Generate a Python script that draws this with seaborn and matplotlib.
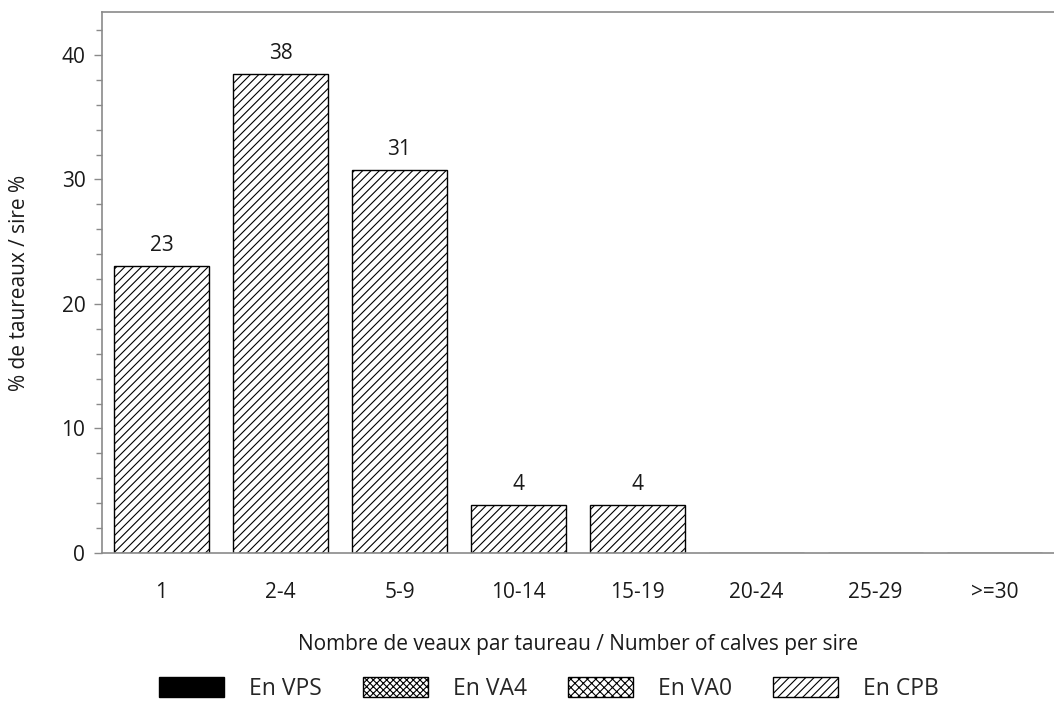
import matplotlib
matplotlib.use("Agg")
import matplotlib.pyplot as plt
import seaborn as sns
import pandas as pd
from matplotlib.patches import Patch
from matplotlib.ticker import MultipleLocator

categories = ["1", "2-4", "5-9", "10-14", "15-19", "20-24", "25-29", ">=30"]
cpb_values = [23.08, 38.46, 30.77, 3.85, 3.85, 0, 0, 0]
legend_labels = ["En VPS", "En VA4", "En VA0", "En CPB"]
y_label = "% de taureaux / sire %"
x_label = "Nombre de veaux par taureau / Number of calves per sire"

sns.set_style("white")
plt.rcParams['font.family'] = ['Open Sans', 'DejaVu Sans']
plt.rcParams['hatch.linewidth'] = 0.8

FS = 15
LFS = 16.5
TXT = "#1a1a1a"

df = pd.DataFrame({"cat": categories, "val": cpb_values})

fig = plt.figure(figsize=(10.54, 7.02), dpi=100)
ax = fig.add_axes([102/1054, 149/702, 952/1054, 541/702])

sns.barplot(data=df, x="cat", y="val", order=categories, color="white",
            edgecolor="black", linewidth=1.0, width=0.8, ax=ax, saturation=1)
for p in ax.patches:
    p.set_hatch("////")
    p.set_facecolor("white")
    p.set_edgecolor("black")

labels = [f"{v:.0f}" if v > 0 else "" for v in cpb_values]
ax.bar_label(ax.containers[0], labels=labels, padding=7, fontsize=FS, color=TXT)

ax.set_xlim(-0.5, 7.5)
ax.set_ylim(0, 43.45)
ax.yaxis.set_major_locator(MultipleLocator(10))
ax.yaxis.set_minor_locator(MultipleLocator(2))

gray = "#8a8a8a"
for side in ["left", "top", "bottom"]:
    ax.spines[side].set_color(gray)
    ax.spines[side].set_linewidth(1.2)
ax.spines["right"].set_visible(False)

ax.tick_params(axis="y", which="major", left=True, length=6, width=1, color=gray,
               pad=6, labelsize=FS, labelcolor=TXT)
ax.tick_params(axis="y", which="minor", left=True, length=4, width=1, color=gray)
ax.tick_params(axis="x", length=0, pad=21, labelsize=FS, labelcolor=TXT)

ax.set_xlabel(x_label, fontsize=FS, color=TXT, labelpad=22)
ax.set_ylabel(y_label, fontsize=FS, color=TXT)
ax.yaxis.set_label_coords(-0.0756, 0.5)

handles = [
    Patch(facecolor="black", edgecolor="black", label=legend_labels[0]),
    Patch(facecolor="white", edgecolor="black", hatch="xxxxx", label=legend_labels[1]),
    Patch(facecolor="white", edgecolor="black", hatch="xxxx", label=legend_labels[2]),
    Patch(facecolor="white", edgecolor="black", hatch="////", label=legend_labels[3]),
]
h = LFS * 100 / 72
fig.legend(handles=handles, loc="center", bbox_to_anchor=(549/1054, 1 - 689/702),
           ncol=4, frameon=False, fontsize=LFS, handlelength=65/h, handleheight=21/h,
           handletextpad=25/h, columnspacing=41/h, borderpad=0, borderaxespad=0)

fig.savefig("out.png", dpi=100)
